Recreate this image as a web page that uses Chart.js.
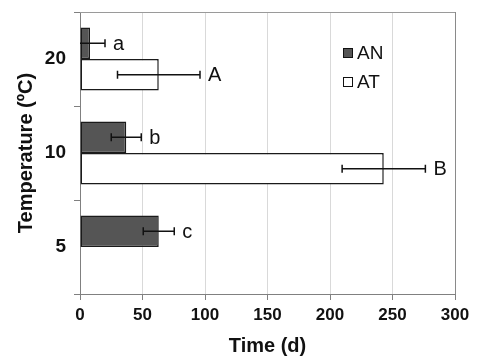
<!DOCTYPE html>
<html>
<head>
<meta charset="utf-8">
<script src="https://cdn.jsdelivr.net/npm/chart.js@4"></script>
<style>
  html, body { margin: 0; padding: 0; background: #fff; }
  #wrap { width: 477px; height: 357px; }
</style>
</head>
<body>
<div id="wrap"><canvas id="c" width="477" height="357"></canvas></div>
<script>
const categories = ['20', '10', '5'];
const seriesNames = ['AN', 'AT'];
const anValues = [8, 37, 63];
const atValues = [63, 243, null];
const anErrors = [12, 12, 12.4];
const atErrors = [33, 33.3, null];
const anLetters = ['a', 'b', 'c'];
const atLetters = ['A', 'B', ''];
const xTicks = [0, 50, 100, 150, 200, 250, 300];

const FONT = "'Liberation Sans', Arial, sans-serif";

const errorPlugin = {
  id: 'errorBars',
  afterDatasetsDraw(chart) {
    const ctx = chart.ctx;
    const xs = chart.scales.x;
    const area = chart.chartArea;
    const errs = [anErrors, atErrors];
    const letters = [anLetters, atLetters];
    // top border
    ctx.save();
    ctx.strokeStyle = '#9a9a9a';
    ctx.lineWidth = 1;
    ctx.beginPath();
    ctx.moveTo(area.left, area.top + 0.5);
    ctx.lineTo(area.right, area.top + 0.5);
    ctx.stroke();
    ctx.restore();

    chart.data.datasets.forEach((ds, di) => {
      const meta = chart.getDatasetMeta(di);
      meta.data.forEach((bar, i) => {
        const v = ds.data[i];
        const e = errs[di][i];
        if (v === null || e === null) return;
        const y = bar.y;
        const x1 = xs.getPixelForValue(v - e);
        const x2 = xs.getPixelForValue(v + e);
        ctx.save();
        ctx.beginPath();
        ctx.rect(area.left, area.top - 5, area.right - area.left, area.bottom - area.top + 10);
        ctx.clip();
        ctx.strokeStyle = '#111';
        ctx.lineWidth = 1.5;
        ctx.beginPath();
        ctx.moveTo(x1, y); ctx.lineTo(x2, y);
        ctx.moveTo(x1, y - 4); ctx.lineTo(x1, y + 4);
        ctx.moveTo(x2, y - 4); ctx.lineTo(x2, y + 4);
        ctx.stroke();
        ctx.restore();
        const t = letters[di][i];
        if (t) {
          ctx.save();
          ctx.fillStyle = '#111';
          ctx.font = '20px ' + FONT;
          ctx.textAlign = 'left';
          ctx.textBaseline = 'middle';
          ctx.fillText(t, x2 + 8, y + 1);
          ctx.restore();
        }
      });
    });

    // legend
    const fills = ['#555555', '#ffffff'];
    const lx = 343, ly = [53, 82];
    seriesNames.forEach((n, k) => {
      ctx.save();
      ctx.fillStyle = fills[k];
      ctx.strokeStyle = '#111';
      ctx.lineWidth = 1;
      ctx.fillRect(lx, ly[k] - 5, 10, 10);
      ctx.strokeRect(lx + 0.5, ly[k] - 4.5, 9, 9);
      ctx.fillStyle = '#111';
      ctx.font = '19px ' + FONT;
      ctx.textAlign = 'left';
      ctx.textBaseline = 'middle';
      ctx.fillText(n, lx + 14, ly[k] + 1);
      ctx.restore();
    });
  }
};

new Chart(document.getElementById('c'), {
  type: 'bar',
  data: {
    labels: categories,
    datasets: [
      { label: seriesNames[0], data: anValues, backgroundColor: '#555555', borderColor: '#1a1a1a', borderWidth: 1.5, borderSkipped: false },
      { label: seriesNames[1], data: atValues, backgroundColor: '#ffffff', borderColor: '#1a1a1a', borderWidth: 1.5, borderSkipped: false }
    ]
  },
  options: {
    indexAxis: 'y',
    responsive: false,
    animation: false,
    devicePixelRatio: 1,
    layout: { padding: { top: 12, right: 22, left: 0, bottom: 0 } },
    datasets: { bar: { barPercentage: 1, categoryPercentage: 0.67 } },
    plugins: { legend: { display: false }, tooltip: { enabled: false } },
    scales: {
      x: {
        type: 'linear',
        min: 0, max: 300,
        afterBuildTicks(s) { s.ticks = xTicks.map(v => ({ value: v })); },
        afterFit(s) { s.height = 63; s.paddingLeft = 0; s.paddingRight = 0; },
        border: { display: true, color: '#808080', width: 1 },
        grid: {
          color: (c) => c.tick && c.tick.value === 300 ? '#8a8a8a' : '#d9d9d9',
          tickColor: '#808080',
          tickLength: 6
        },
        ticks: { color: '#111', font: { family: FONT, size: 17, weight: 'bold' }, padding: 5, maxRotation: 0 },
        title: { display: true, text: 'Time (d)', color: '#111', font: { family: FONT, size: 20, weight: 'bold' }, padding: { top: 0, bottom: -1 } }
      },
      y: {
        type: 'category',
        offset: true,
        afterFit(s) { s.width = 80; s.paddingTop = 0; s.paddingBottom = 0; },
        border: { display: true, color: '#808080', width: 1 },
        grid: { offset: true, drawOnChartArea: false, color: '#808080', tickLength: 6 },
        ticks: { color: '#111', font: { family: FONT, size: 19, weight: 'bold' }, padding: 8 },
        title: { display: true, text: 'Temperature (ºC)', color: '#111', font: { family: FONT, size: 20, weight: 'bold' }, padding: { top: 14, bottom: 0 } }
      }
    }
  },
  plugins: [errorPlugin]
});
</script>
</body>
</html>
